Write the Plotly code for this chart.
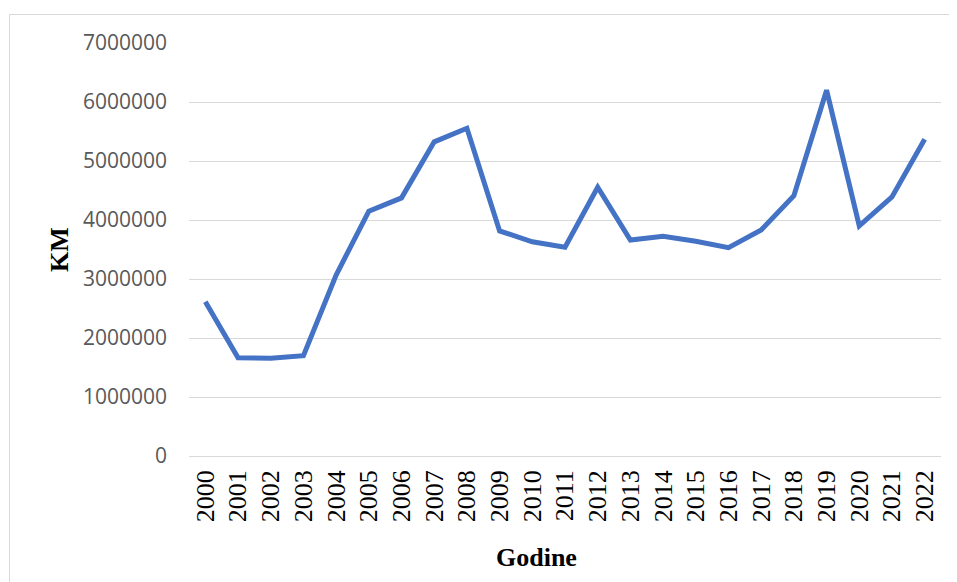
import plotly.graph_objects as go

years = [str(y) for y in range(2000, 2023)]
values = [2615000, 1665000, 1655000, 1700000, 3068000, 4150000, 4375000, 5325000,
          5555000, 3815000, 3630000, 3540000, 4555000, 3660000, 3725000, 3640000,
          3530000, 3830000, 4410000, 6200000, 3900000, 4390000, 5370000]
y_ticks = [0, 1000000, 2000000, 3000000, 4000000, 5000000, 6000000, 7000000]
x_title = "Godine"
y_title = "KM"

OFF = 8  # default page body margin
W, H = 957 - OFF, 582 - OFF
L, R, T, B = 189 - OFF, 941 - OFF, 43 - OFF, 456 - OFF

def px_x(p):
    return (p - OFF - L) / (R - L)

def px_y(p):
    return (B - (p - OFF)) / (B - T)

fig = go.Figure()
fig.add_trace(go.Scatter(
    x=years, y=values, mode="lines",
    line=dict(color="#4472C4", width=5, shape="linear"),
    hoverinfo="x+y", showlegend=False,
))

fig.update_layout(
    width=W, height=H,
    margin=dict(l=L, r=W - R, t=T, b=H - B, pad=0),
    paper_bgcolor="white", plot_bgcolor="white",
    xaxis=dict(
        type="category", range=[-0.5, len(years) - 0.5],
        showgrid=False, zeroline=False, showline=False,
        tickangle=-90, ticks="", ticklabelstandoff=8,
        tickfont=dict(family="Liberation Serif", size=26, color="black"),
    ),
    yaxis=dict(
        range=[0, 7000000], tickvals=y_ticks,
        ticktext=[str(v) for v in y_ticks],
        showgrid=True, gridcolor="#D9D9D9", gridwidth=1,
        zeroline=True, zerolinecolor="#D9D9D9", zerolinewidth=1,
        showline=False, ticks="", ticklabelstandoff=21,
        tickfont=dict(family="Open Sans", size=21, color="#595959"),
    ),
    annotations=[
        dict(text="<b>" + x_title + "</b>", xref="paper", yref="paper",
             x=px_x(536), y=px_y(557.5), xanchor="center", yanchor="middle",
             showarrow=False, font=dict(family="Liberation Serif", size=26, color="black")),
        dict(text="<b>" + y_title + "</b>", xref="paper", yref="paper",
             x=px_x(59), y=px_y(250), xanchor="center", yanchor="middle",
             textangle=-90, showarrow=False,
             font=dict(family="Liberation Serif", size=26, color="black")),
    ],
    shapes=[
        dict(type="line", xref="paper", yref="paper",
             x0=px_x(9.5), x1=px_x(960), y0=px_y(14.5), y1=px_y(14.5),
             line=dict(color="#D9D9D9", width=1)),
        dict(type="line", xref="paper", yref="paper",
             x0=px_x(9.5), x1=px_x(9.5), y0=px_y(14.5), y1=px_y(590),
             line=dict(color="#D9D9D9", width=1)),
    ],
)

fig.write_html("out.html")
